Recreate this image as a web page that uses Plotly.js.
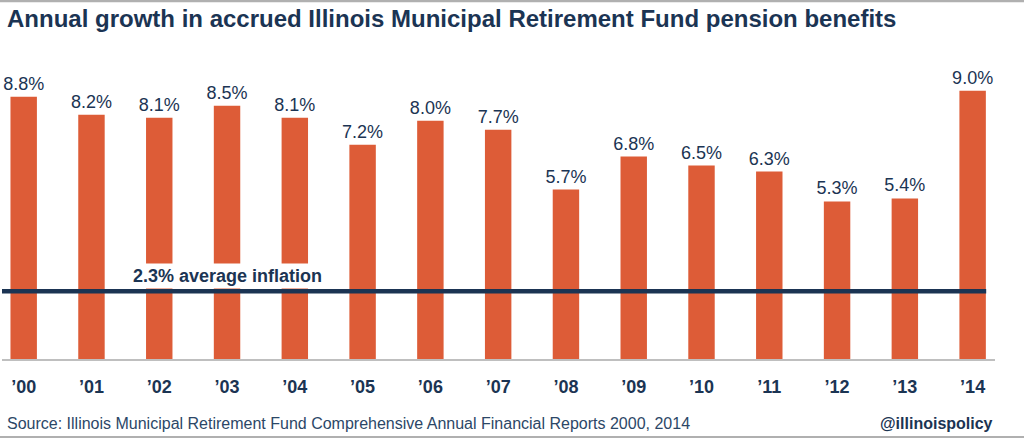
<!DOCTYPE html>
<html>
<head>
<meta charset="utf-8">
<script src="https://cdn.plot.ly/plotly-3.0.1.min.js"></script>
<style>
html,body{margin:0;padding:0;background:#fff;}
#chart{width:1024px;height:440px;}
</style>
</head>
<body>
<div id="chart"></div>
<script>
const categories = ["2000","2001","2002","2003","2004","2005","2006","2007","2008","2009","2010","2011","2012","2013","2014"];
const tickLabels = ["\u201900","\u201901","\u201902","\u201903","\u201904","\u201905","\u201906","\u201907","\u201908","\u201909","\u201910","\u201911","\u201912","\u201913","\u201914"];
const growth = [8.8, 8.2, 8.1, 8.5, 8.1, 7.2, 8.0, 7.7, 5.7, 6.8, 6.5, 6.3, 5.3, 5.4, 9.0];
const avgInflation = 2.3;

const NAVY = "#1b3453";
const BAR = "#dd5c37";
const GRAY = "#bfbfbf";
const idx = categories.map((c, i) => i);

const trace = {
  type: "bar",
  x: idx,
  y: growth,
  width: 0.39,
  marker: {color: BAR},
  text: growth.map(v => v.toFixed(1) + "%"),
  textposition: "outside",
  constraintext: "none",
  textfont: {family: "Liberation Sans, Arial, sans-serif", size: 18, color: NAVY},
  cliponaxis: false,
  hoverinfo: "skip"
};

const layout = {
  width: 1024, height: 440,
  margin: {l: 2, r: 29, t: 60, b: 80},
  paper_bgcolor: "#fff", plot_bgcolor: "#fff",
  showlegend: false,
  xaxis: {
    range: [-0.32, 14.33],
    tickvals: idx,
    ticktext: tickLabels,
    ticks: "outside", ticklen: 10, tickcolor: "rgba(0,0,0,0)",
    tickfont: {family: "Liberation Sans, Arial, sans-serif", size: 18, color: NAVY, weight: "bold"},
    showgrid: false, zeroline: false, showline: false, fixedrange: true
  },
  yaxis: {
    range: [0, 10.03],
    visible: false, showgrid: false, zeroline: false, fixedrange: true
  },
  shapes: [
    {type: "line", xref: "paper", yref: "paper", x0: 0, x1: 1, y0: 0, y1: 0,
     line: {color: GRAY, width: 2}, layer: "above"},
    {type: "line", xref: "paper", yref: "paper", x0: -0.01, x1: 1.04, y0: 1.197, y1: 1.197,
     line: {color: "#b0b0b0", width: 2.5}},
    {type: "line", xref: "paper", yref: "paper", x0: -0.01, x1: 1.04, y0: -0.257, y1: -0.257,
     line: {color: "#b0b0b0", width: 2}},
    {type: "line", xref: "x", yref: "y", x0: -0.35, x1: 14.2, y0: avgInflation, y1: avgInflation,
     line: {color: NAVY, width: 4.5}, layer: "above"}
  ],
  annotations: [
    {xref: "paper", yref: "paper", x: 0.003, y: 1.14, xanchor: "left", yanchor: "middle",
     text: "<b>Annual growth in accrued Illinois Municipal Retirement Fund pension benefits</b>",
     showarrow: false, font: {family: "Liberation Sans, Arial, sans-serif", size: 24, color: NAVY}},
    {xref: "x", yref: "y", x: 3.0, y: 2.82, xanchor: "center", yanchor: "middle",
     text: "<b>" + avgInflation.toFixed(1) + "% average inflation</b>",
     showarrow: false, bgcolor: "#fff", borderpad: 2,
     font: {family: "Liberation Sans, Arial, sans-serif", size: 18, color: NAVY}},
    {xref: "paper", yref: "paper", x: 0.003, y: -0.213, xanchor: "left", yanchor: "middle",
     text: "Source: Illinois Municipal Retirement Fund Comprehensive Annual Financial Reports 2000, 2014",
     showarrow: false, font: {family: "Liberation Sans, Arial, sans-serif", size: 16, color: "#2c4767"}},
    {xref: "paper", yref: "paper", x: 1.0, y: -0.213, xanchor: "right", yanchor: "middle",
     text: "<b>@illinoispolicy</b>",
     showarrow: false, font: {family: "Liberation Sans, Arial, sans-serif", size: 16, color: NAVY}}
  ]
};

Plotly.newPlot("chart", [trace], layout, {displayModeBar: false, staticPlot: true});
</script>
</body>
</html>
